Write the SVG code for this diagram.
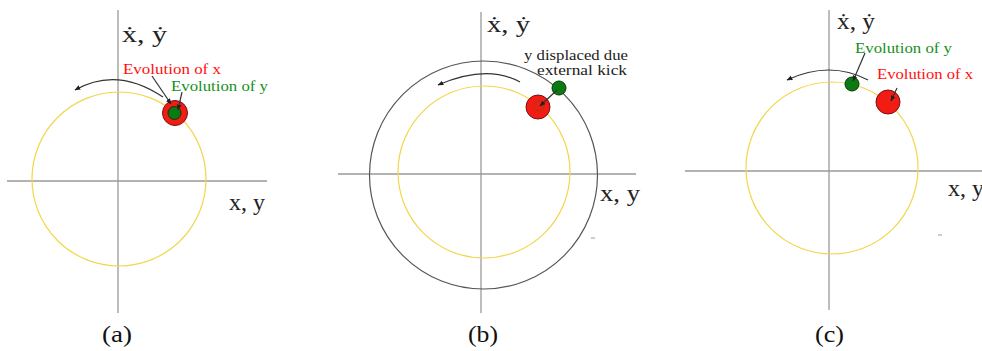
<svg xmlns="http://www.w3.org/2000/svg" width="982" height="351" viewBox="0 0 982 351">
<style>
.axis{stroke:#9a9a9a;stroke-width:1.3;fill:none}
.orbit{stroke:#f2d64b;stroke-width:1.2;fill:none}
.outer{stroke:#555;stroke-width:1.2;fill:none}
.arc{stroke:#333;stroke-width:1.2;fill:none;marker-end:url(#ah)}
.lead{stroke:#333;stroke-width:1.2;fill:none;marker-end:url(#ah)}
.red{fill:#f21c14;stroke:#7a1010;stroke-width:1}
.grn{fill:#0b7a12;stroke:#043a06;stroke-width:1}
.ax{font-family:"Liberation Serif","DejaVu Serif",serif;font-size:24px;fill:#222}
.cap{font-family:"Liberation Serif","DejaVu Serif",serif;font-size:23px;fill:#111}
.lbl{font-family:"Liberation Serif","DejaVu Serif",serif;font-size:15px}
.sm{font-size:14px}
.rt{fill:#ff1010}
.gt{fill:#14901a}
.bt{fill:#222}
</style>
<defs>
<marker id="ah" viewBox="0 0 10 10" refX="9" refY="5" markerWidth="6" markerHeight="6" markerUnits="userSpaceOnUse" orient="auto">
<path d="M0,1 L10,5 L0,9 z" fill="#222"/>
</marker>
</defs>
<g id="panel-a">
<line class="axis" x1="118" y1="10" x2="118" y2="313"/>
<line class="axis" x1="7" y1="181" x2="267" y2="181"/>
<circle class="orbit" cx="119" cy="179" r="87"/>
<text class="ax" x="122" y="42" textLength="45" lengthAdjust="spacingAndGlyphs">ẋ, ẏ</text>
<text class="ax" x="229" y="210" textLength="36" lengthAdjust="spacingAndGlyphs">x, y</text>
<circle class="red" cx="175" cy="113" r="12.5"/>
<circle class="grn" cx="174.5" cy="113" r="6.5"/>
<text class="lbl rt" x="123" y="74" textLength="98" lengthAdjust="spacingAndGlyphs">Evolution of x</text>
<text class="lbl gt" x="171" y="91" textLength="97" lengthAdjust="spacingAndGlyphs">Evolution of y</text>
<text class="cap" x="102" y="342" textLength="30" lengthAdjust="spacingAndGlyphs">(a)</text>
</g>
<g id="panel-b">
<line class="axis" x1="481" y1="12" x2="481" y2="313"/>
<line class="axis" x1="338" y1="174" x2="636" y2="174"/>
<circle class="orbit" cx="484" cy="172" r="86"/>
<circle class="outer" cx="483.5" cy="175" r="114"/>
<text class="ax" x="487" y="32" textLength="43" lengthAdjust="spacingAndGlyphs">ẋ, ẏ</text>
<text class="ax" x="600" y="201" textLength="40" lengthAdjust="spacingAndGlyphs">x, y</text>
<circle class="red" cx="538" cy="107" r="12"/>
<circle cx="539" cy="106" r="5" fill="none" stroke="#a83a10" stroke-width="1"/>
<circle class="grn" cx="559" cy="88" r="7"/>
<text class="lbl sm bt" x="524" y="60" textLength="104" lengthAdjust="spacingAndGlyphs">y displaced due</text>
<text class="lbl sm bt" x="537" y="75" textLength="90" lengthAdjust="spacingAndGlyphs">external kick</text>
<line x1="591" y1="238" x2="595" y2="238" stroke="#999" stroke-width="1"/>
<text class="cap" x="468" y="342" textLength="30" lengthAdjust="spacingAndGlyphs">(b)</text>
</g>
<g id="panel-c">
<line class="axis" x1="829" y1="10" x2="829" y2="310"/>
<line class="axis" x1="685" y1="171" x2="982" y2="171"/>
<circle class="orbit" cx="832" cy="168" r="86"/>
<text class="ax" x="837" y="29" textLength="38" lengthAdjust="spacingAndGlyphs">ẋ, ẏ</text>
<text class="ax" x="948" y="196">x, y</text>
<circle class="grn" cx="852" cy="84" r="7"/>
<circle class="red" cx="888" cy="102" r="12"/>
<text class="lbl gt" x="855" y="53" textLength="97" lengthAdjust="spacingAndGlyphs">Evolution of y</text>
<text class="lbl rt" x="877" y="79" textLength="96" lengthAdjust="spacingAndGlyphs">Evolution of x</text>
<line x1="938" y1="235" x2="942" y2="235" stroke="#999" stroke-width="1"/>
<text class="cap" x="815" y="342" textLength="29" lengthAdjust="spacingAndGlyphs">(c)</text>
</g>
<g id="connectors">
<path class="arc" d="M163,97 Q117,66 75,90"/>
<path class="lead" d="M152,76 L171,104"/>
<path class="lead" d="M182,92 L178,110"/>
<path class="arc" d="M520,82 Q487,64 438,85"/>
<path class="lead" d="M557,90 L540,106"/>
<path class="arc" d="M868,80 Q830,60 787,80"/>
<path class="lead" d="M865,53 L853,81"/>
<path class="lead" d="M897,88 L891,101"/>
</g>
</svg>
